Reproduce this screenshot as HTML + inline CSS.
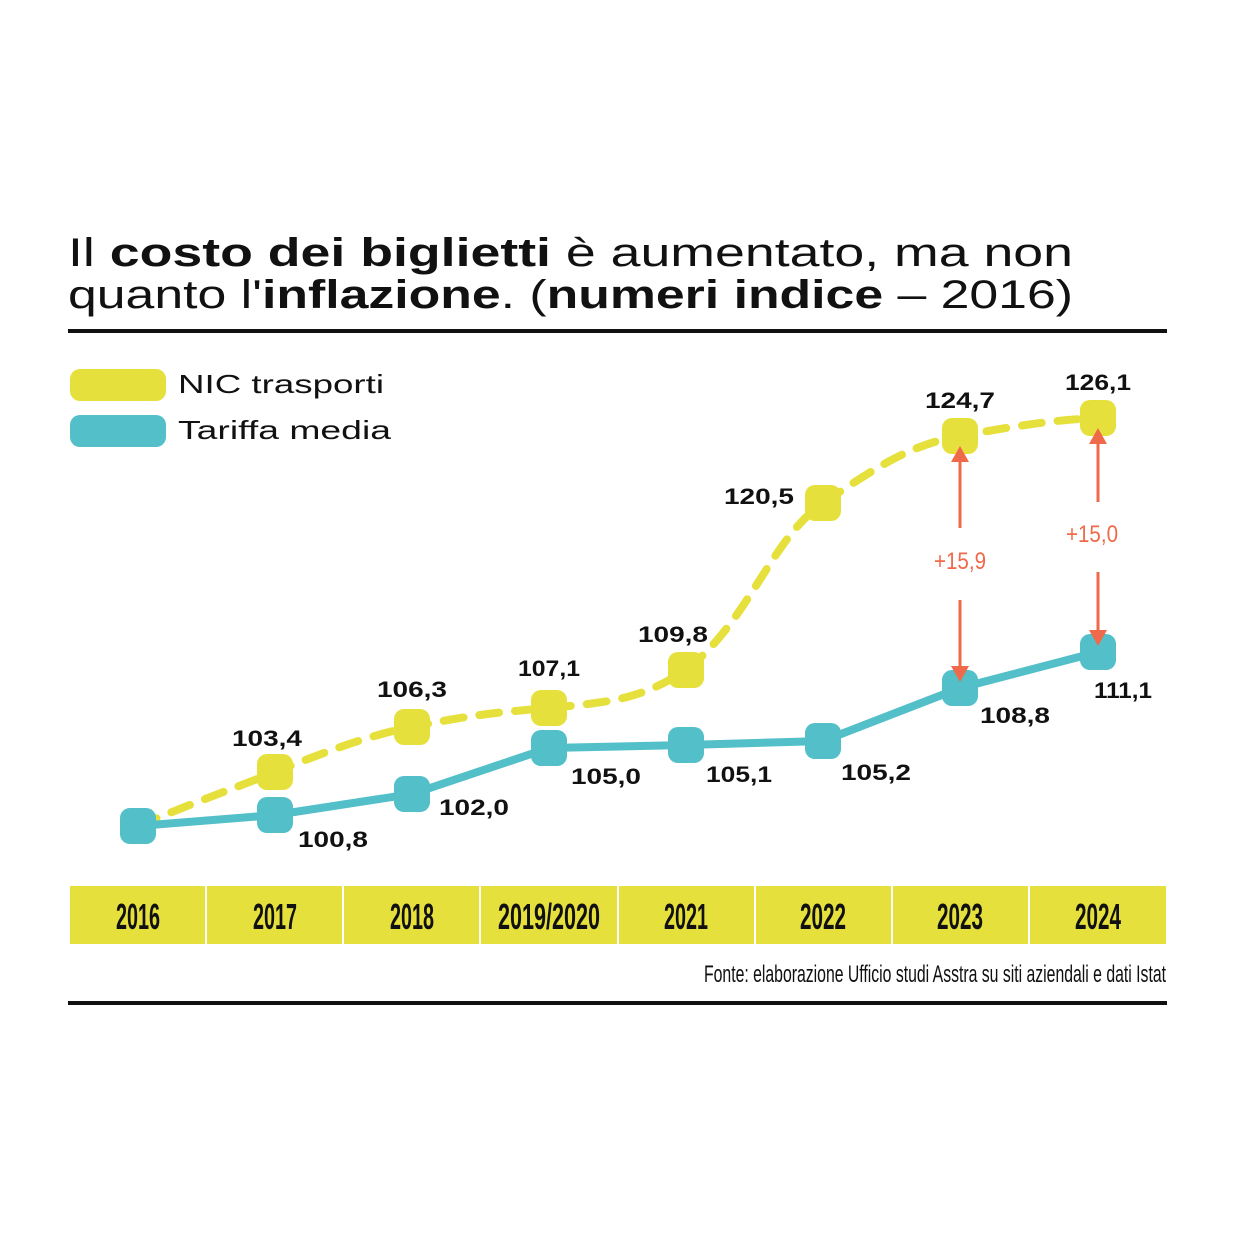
<!DOCTYPE html>
<html><head><meta charset="utf-8"><style>
body{margin:0;background:#fff;}
svg{display:block}
</style></head><body>
<svg width="1240" height="1240" viewBox="0 0 1240 1240" xmlns="http://www.w3.org/2000/svg" font-family="Liberation Sans, sans-serif">
<rect width="1240" height="1240" fill="#fff"/>
<text x="68" y="266" font-size="40" fill="#111" textLength="1005" lengthAdjust="spacingAndGlyphs">Il <tspan font-weight="bold">costo dei biglietti</tspan> è aumentato, ma non</text>
<text x="68" y="308" font-size="40" fill="#111" textLength="1005" lengthAdjust="spacingAndGlyphs">quanto l'<tspan font-weight="bold">inflazione</tspan>. (<tspan font-weight="bold">numeri indice</tspan> – 2016)</text>
<rect x="68" y="329" width="1099" height="4" fill="#111"/>
<rect x="70" y="369" width="96" height="32" rx="10" fill="#e6e03c"/>
<rect x="70" y="415" width="96" height="32" rx="10" fill="#52bfc9"/>
<text x="178" y="393" font-size="26" fill="#111" textLength="206" lengthAdjust="spacingAndGlyphs">NIC trasporti</text>
<text x="178" y="439" font-size="26" fill="#111" textLength="213" lengthAdjust="spacingAndGlyphs">Tariffa media</text>

<path d="M138,826 C200,800 230,790 275,772 C330,750 370,735 412,727 C470,715 500,712 549,708 C610,702 640,700 686,670 C750,620 770,540 823,503 C880,465 910,445 960,436 C1010,427 1050,420 1098,418" fill="none" stroke="#e6e03c" stroke-width="8" stroke-dasharray="20,16" stroke-linecap="round"/>
<polyline points="138,826 275,815 412,794 549,748 686,745 823,741 960,688 1098,652" fill="none" stroke="#52bfc9" stroke-width="8"/>
<g fill="#e6e03c">
<rect x="257" y="754" width="36" height="36" rx="10"/>
<rect x="394" y="709" width="36" height="36" rx="10"/>
<rect x="531" y="690" width="36" height="36" rx="10"/>
<rect x="668" y="652" width="36" height="36" rx="10"/>
<rect x="805" y="485" width="36" height="36" rx="10"/>
<rect x="942" y="418" width="36" height="36" rx="10"/>
<rect x="1080" y="400" width="36" height="36" rx="10"/>
</g>
<g fill="#52bfc9">
<rect x="120" y="808" width="36" height="36" rx="10"/>
<rect x="257" y="797" width="36" height="36" rx="10"/>
<rect x="394" y="776" width="36" height="36" rx="10"/>
<rect x="531" y="730" width="36" height="36" rx="10"/>
<rect x="668" y="727" width="36" height="36" rx="10"/>
<rect x="805" y="723" width="36" height="36" rx="10"/>
<rect x="942" y="670" width="36" height="36" rx="10"/>
<rect x="1080" y="634" width="36" height="36" rx="10"/>
</g>
<g stroke="#ef6a4b" stroke-width="3" fill="#ef6a4b">
<line x1="960" y1="460" x2="960" y2="528"/><line x1="960" y1="600" x2="960" y2="668"/>
<line x1="1098" y1="442" x2="1098" y2="502"/><line x1="1098" y1="572" x2="1098" y2="632"/>
<polygon stroke="none" points="960,446 951,462 969,462"/>
<polygon stroke="none" points="960,682 951,666 969,666"/>
<polygon stroke="none" points="1098,428 1089,444 1107,444"/>
<polygon stroke="none" points="1098,646 1089,630 1107,630"/>
</g>
<g font-family="Liberation Sans Narrow, Liberation Sans, sans-serif" font-size="24" fill="#ef6a4b" text-anchor="middle">
<text x="960" y="569" textLength="52" lengthAdjust="spacingAndGlyphs">+15,9</text><text x="1092" y="542" textLength="52" lengthAdjust="spacingAndGlyphs">+15,0</text>
</g>
<g font-size="22" font-weight="bold" fill="#111" text-anchor="middle">
<text x="267" y="746" textLength="70" lengthAdjust="spacingAndGlyphs">103,4</text><text x="412" y="697" textLength="70" lengthAdjust="spacingAndGlyphs">106,3</text><text x="549" y="676" textLength="62" lengthAdjust="spacingAndGlyphs">107,1</text>
<text x="673" y="642" textLength="70" lengthAdjust="spacingAndGlyphs">109,8</text><text x="759" y="504" textLength="70" lengthAdjust="spacingAndGlyphs">120,5</text><text x="960" y="408" textLength="70" lengthAdjust="spacingAndGlyphs">124,7</text><text x="1098" y="390" textLength="66" lengthAdjust="spacingAndGlyphs">126,1</text>
<text x="333" y="847" textLength="70" lengthAdjust="spacingAndGlyphs">100,8</text><text x="474" y="815" textLength="70" lengthAdjust="spacingAndGlyphs">102,0</text><text x="606" y="784" textLength="70" lengthAdjust="spacingAndGlyphs">105,0</text>
<text x="739" y="782" textLength="66" lengthAdjust="spacingAndGlyphs">105,1</text><text x="876" y="780" textLength="70" lengthAdjust="spacingAndGlyphs">105,2</text><text x="1015" y="723" textLength="70" lengthAdjust="spacingAndGlyphs">108,8</text><text x="1123" y="698" textLength="58" lengthAdjust="spacingAndGlyphs">111,1</text>
</g>
<rect x="70" y="886" width="1096" height="58" fill="#e6e03c"/>
<g stroke="#fff" stroke-width="2">
<line x1="206" y1="886" x2="206" y2="944"/><line x1="343" y1="886" x2="343" y2="944"/><line x1="480" y1="886" x2="480" y2="944"/>
<line x1="618" y1="886" x2="618" y2="944"/><line x1="755" y1="886" x2="755" y2="944"/><line x1="892" y1="886" x2="892" y2="944"/><line x1="1029" y1="886" x2="1029" y2="944"/>
</g>
<g font-family="Liberation Sans Narrow, Liberation Sans, sans-serif" font-size="36" fill="#111" text-anchor="middle" font-weight="bold">
<text x="138" y="929" textLength="44" lengthAdjust="spacingAndGlyphs">2016</text>
<text x="275" y="929" textLength="44" lengthAdjust="spacingAndGlyphs">2017</text>
<text x="412" y="929" textLength="44" lengthAdjust="spacingAndGlyphs">2018</text>
<text x="549" y="929" textLength="102" lengthAdjust="spacingAndGlyphs">2019/2020</text>
<text x="686" y="929" textLength="44" lengthAdjust="spacingAndGlyphs">2021</text>
<text x="823" y="929" textLength="46" lengthAdjust="spacingAndGlyphs">2022</text>
<text x="960" y="929" textLength="46" lengthAdjust="spacingAndGlyphs">2023</text>
<text x="1098" y="929" textLength="46" lengthAdjust="spacingAndGlyphs">2024</text>
</g>
<text x="1166" y="982" font-family="Liberation Sans Narrow, Liberation Sans, sans-serif" font-size="24" fill="#111" text-anchor="end" textLength="462" lengthAdjust="spacingAndGlyphs">Fonte: elaborazione Ufficio studi Asstra su siti aziendali e dati Istat</text>
<rect x="68" y="1001" width="1099" height="4" fill="#111"/>
</svg>
</body></html>
